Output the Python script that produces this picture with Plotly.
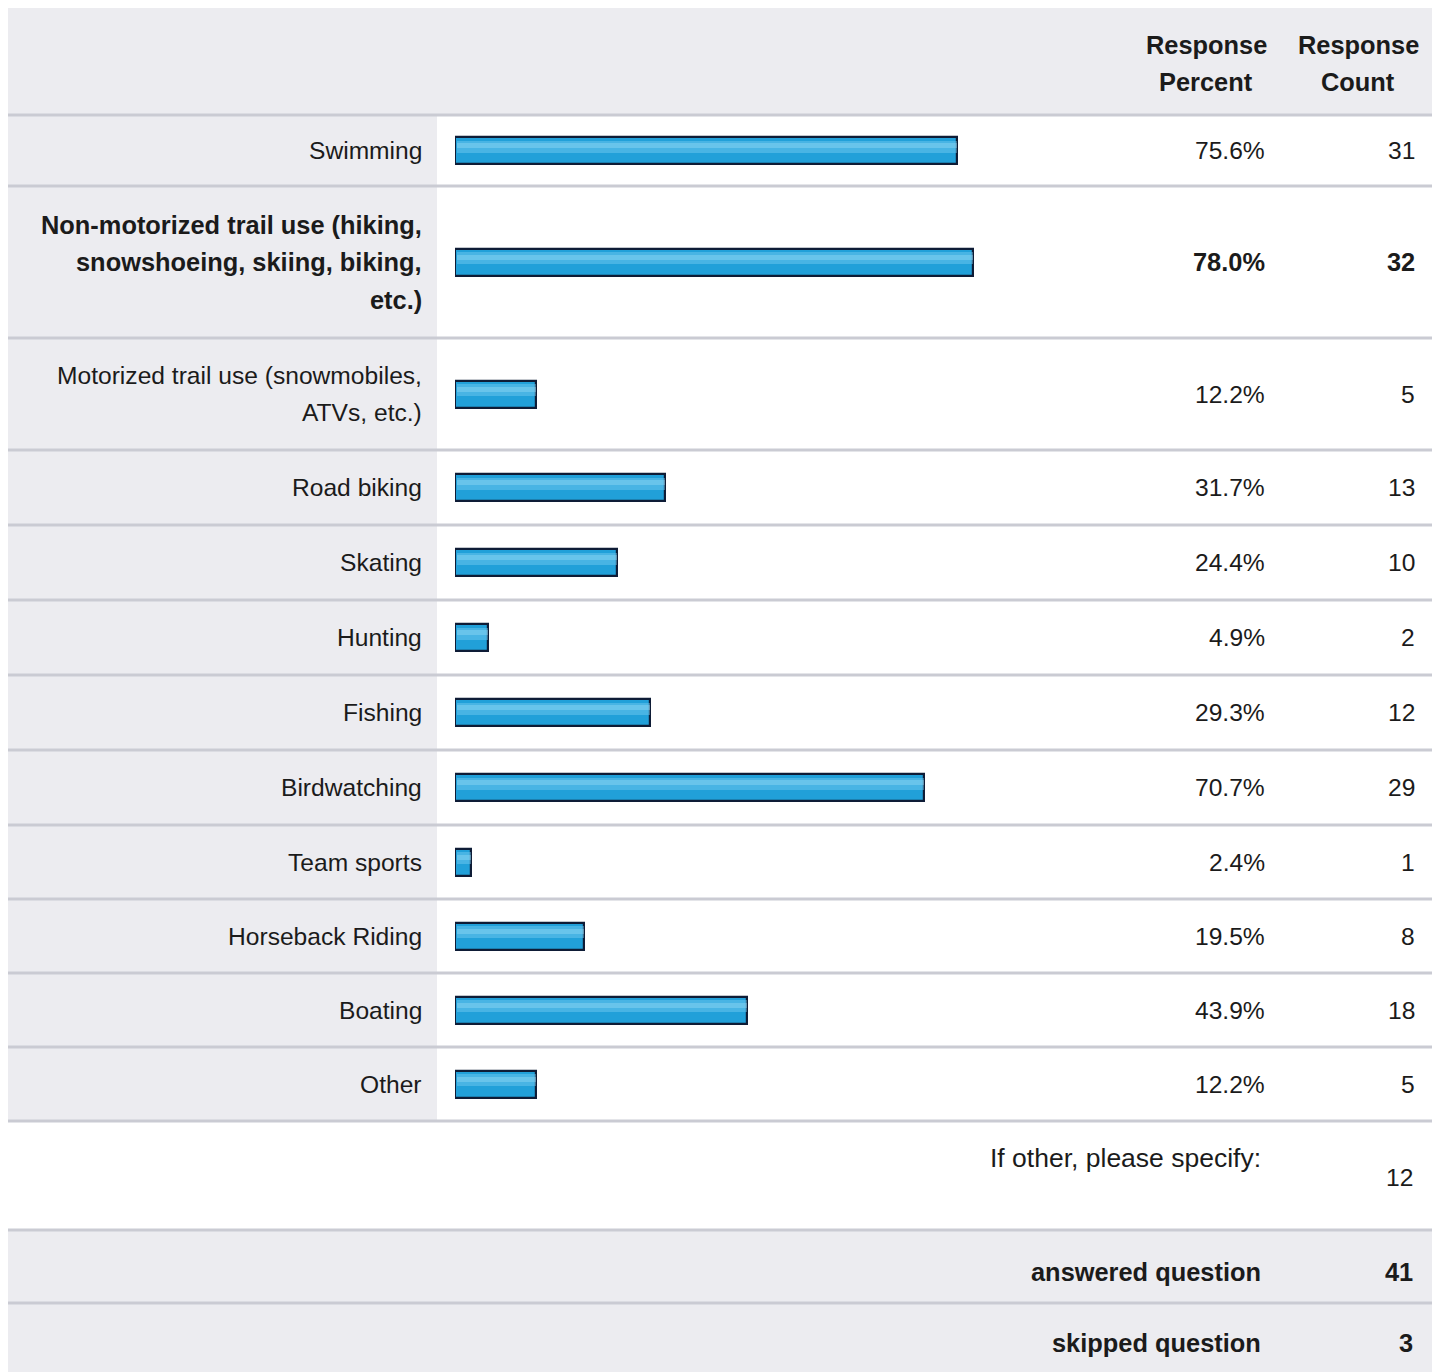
import plotly.graph_objects as go

# ---------------- data ----------------
categories = [
    "Swimming",
    "Non-motorized trail use (hiking,<br>snowshoeing, skiing, biking,<br>etc.)",
    "Motorized trail use (snowmobiles,<br>ATVs, etc.)",
    "Road biking",
    "Skating",
    "Hunting",
    "Fishing",
    "Birdwatching",
    "Team sports",
    "Horseback Riding",
    "Boating",
    "Other",
]
response_percent = [75.6, 78.0, 12.2, 31.7, 24.4, 4.9, 29.3, 70.7, 2.4, 19.5, 43.9, 12.2]
response_count = [31, 32, 5, 13, 10, 2, 12, 29, 1, 8, 18, 5]
bold_rows = [False, True, False, False, False, False, False, False, False, False, False, False]
other_specify_count = 12
answered_question = 41
skipped_question = 3
header_labels = ["Response<br>Percent", "Response<br>Count"]

# ---------------- layout constants ----------------
PAGE_W, PAGE_H = 1445, 1372
OFF = 8                      # default body margin of the page
W, H = PAGE_W - OFF, PAGE_H - OFF
HEADER_TOP, HEADER_BOTTOM = 5, 115
row_heights = [71, 152, 112, 75, 75, 75, 75, 75, 74, 74, 74, 74]
OTHER_ROW_H, ANSWERED_H = 109, 73
TABLE_L, TABLE_R = 5, 1432
LABEL_COL_R = 437
LABEL_X = 424
PCT_X = 1267
CNT_X = 1417
BAR_L, BAR_100 = 455, 1119
LINE_GAP = 37.5
FONT = "Liberation Sans, Arial, Helvetica, sans-serif"
TXT = "#1b1b1b"
GRAY_BG = "#ececf0"
RULE = "#cacbd3"
REG = 24.6
BOLD = 25.4

def px(x):
    return (x - OFF) / W

# row boundaries
bounds = [HEADER_BOTTOM]
for h in row_heights:
    bounds.append(bounds[-1] + h)
centers = [(bounds[i] + bounds[i + 1]) / 2 for i in range(len(row_heights))]
other_top = bounds[-1]
other_bottom = other_top + OTHER_ROW_H
ans_bottom = other_bottom + ANSWERED_H

fig = go.Figure()

# main bars
fig.add_trace(go.Bar(
    x=response_percent, y=centers, orientation="h", width=27,
    marker=dict(color="#21a0d9", line=dict(color="#0e1c36", width=2.2)),
    hoverinfo="x", showlegend=False,
))
# soft highlight for the glossy gradient look
fig.add_trace(go.Bar(
    x=[v - 0.3 for v in response_percent], base=0.3, y=[c - 4 for c in centers], orientation="h", width=12,
    marker=dict(color="rgba(120,205,241,0.45)", line=dict(width=0)),
    hoverinfo="skip", showlegend=False,
))
fig.add_trace(go.Bar(
    x=[v - 0.3 for v in response_percent], base=0.3, y=[c - 5 for c in centers], orientation="h", width=5,
    marker=dict(color="rgba(165,225,248,0.35)", line=dict(width=0)),
    hoverinfo="skip", showlegend=False,
))

shapes = []
# header background
shapes.append(dict(type="rect", xref="paper", yref="y", x0=px(TABLE_L), x1=px(TABLE_R),
                   y0=OFF, y1=HEADER_BOTTOM, fillcolor=GRAY_BG, line=dict(width=0), layer="below"))
# label column background
shapes.append(dict(type="rect", xref="paper", yref="y", x0=px(TABLE_L), x1=px(LABEL_COL_R),
                   y0=HEADER_BOTTOM, y1=other_top, fillcolor=GRAY_BG, line=dict(width=0), layer="below"))
# answered / skipped backgrounds
shapes.append(dict(type="rect", xref="paper", yref="y", x0=px(TABLE_L), x1=px(TABLE_R),
                   y0=other_bottom, y1=PAGE_H, fillcolor=GRAY_BG, line=dict(width=0), layer="below"))
# horizontal rules
for yb in bounds + [other_bottom, ans_bottom]:
    shapes.append(dict(type="line", xref="paper", yref="y", x0=px(TABLE_L), x1=px(TABLE_R),
                       y0=yb, y1=yb, line=dict(color=RULE, width=3), layer="below"))

annotations = []

def add_text(x, y, text, anchor="right", bold=False, size=None):
    if size is None:
        size = BOLD if bold else REG
    annotations.append(dict(
        xref="paper", yref="y", x=px(x), y=y, text=f"<b>{text}</b>" if bold else text,
        xanchor=anchor, yanchor="middle", showarrow=False,
        font=dict(family=FONT, size=size, color=TXT), align=anchor,
    ))

# headers
for i, hdr in enumerate(header_labels):
    xc = [1206, 1358][i]
    for j, line in enumerate(hdr.split("<br>")):
        add_text(xc, 45 + j * 36.5, line, anchor="center", bold=True)

# rows
for i, cat in enumerate(categories):
    lines = cat.split("<br>")
    n = len(lines)
    for j, line in enumerate(lines):
        y = centers[i] + (j - (n - 1) / 2) * LINE_GAP
        add_text(LABEL_X, y, line, bold=bold_rows[i])
    add_text(PCT_X, centers[i], f"{response_percent[i]:.1f}%", bold=bold_rows[i])
    add_text(CNT_X, centers[i], str(response_count[i]), bold=bold_rows[i])

# footer rows
add_text(1263, other_top + 37, "If other, please specify:", size=26.5)
add_text(1415, other_top + 56, str(other_specify_count))
add_text(1263, other_bottom + 42, "answered question", bold=True)
add_text(1415, other_bottom + 42, str(answered_question), bold=True)
add_text(1263, ans_bottom + 40, "skipped question", bold=True)
add_text(1415, ans_bottom + 40, str(skipped_question), bold=True)

fig.update_layout(
    width=W, height=H, margin=dict(l=0, r=0, t=0, b=0),
    paper_bgcolor="white", plot_bgcolor="rgba(0,0,0,0)",
    barmode="overlay", bargap=0,
    xaxis=dict(range=[0, 100], domain=[px(BAR_L), px(BAR_100)], visible=False, fixedrange=True),
    yaxis=dict(range=[PAGE_H, OFF], domain=[0, 1], visible=False, fixedrange=True),
    shapes=shapes, annotations=annotations, showlegend=False,
)

fig.write_html("out.html")
